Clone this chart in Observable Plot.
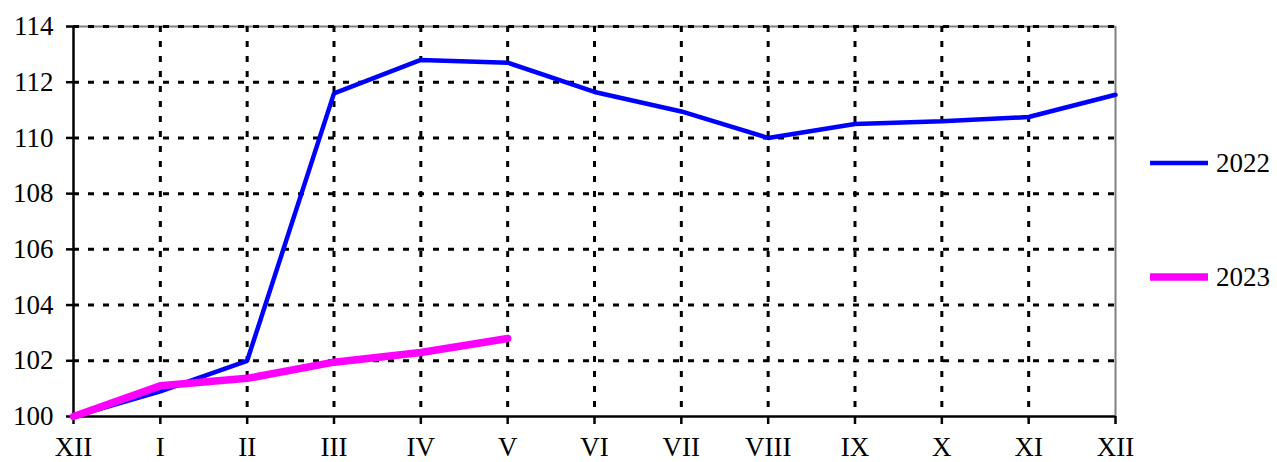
<!DOCTYPE html>
<html>
<head>
<meta charset="utf-8">
<script src="https://cdn.jsdelivr.net/npm/d3@7"></script>
<script src="https://cdn.jsdelivr.net/npm/@observablehq/plot@0.6"></script>
<style>
  html, body { margin: 0; padding: 0; background: #fff; }
  #chart { position: relative; width: 1277px; height: 462px; }
  #chart svg text { font-family: 'Liberation Serif', 'Times New Roman', serif !important; font-size: 27px !important; fill: #000; }
</style>
</head>
<body>
<div id="chart"></div>
<script>
const months = ["XII","I","II","III","IV","V","VI","VII","VIII","IX","X","XI","XII"];
const series2022 = [100, 100.9, 102.0, 111.6, 112.8, 112.7, 111.65, 110.95, 110.0, 110.5, 110.6, 110.75, 111.55];
const series2023 = [100, 101.1, 101.37, 101.95, 102.3, 102.8];
const yTicks = [100, 102, 104, 106, 108, 110, 112, 114];
const seriesNames = ["2022", "2023"];
const seriesColors = ["#0000ff", "#ff00ff"];
const seriesWidths = [4.5, 7.5];

const d2022 = series2022.map((v, i) => ({i, v}));
const d2023 = series2023.map((v, i) => ({i, v}));
const idx = d3.range(months.length);

const plot = Plot.plot({
  width: 1277,
  height: 462,
  marginLeft: 73,
  marginRight: 162,
  marginTop: 26,
  marginBottom: 46,
  style: { fontFamily: "'Liberation Serif', 'Times New Roman', serif", fontSize: "27px", color: "#000", background: "#fff" },
  x: { type: "linear", domain: [0, 12] },
  y: { domain: [100, 114] },
  marks: [
    Plot.ruleY([114], { stroke: "#808080", strokeWidth: 2 }),
    Plot.ruleX([12], { stroke: "#808080", strokeWidth: 2 }),
    Plot.ruleX(idx.slice(1, 12), { stroke: "#000", strokeWidth: 3, strokeDasharray: "6,9" }),
    Plot.ruleY(yTicks.slice(1), { stroke: "#000", strokeWidth: 3, strokeDasharray: "6,9" }),
    Plot.ruleX([0], { stroke: "#000", strokeWidth: 2.5 }),
    Plot.ruleY([100], { stroke: "#000", strokeWidth: 2.5 }),
    Plot.axisX({ ticks: idx, tickFormat: i => months[i], tickSize: 8, tickPadding: 12, strokeWidth: 2.5, label: null, fontSize: 27 }),
    Plot.axisY({ ticks: yTicks, tickFormat: d => String(d), tickSize: 7, tickPadding: 13, strokeWidth: 2.5, label: null, fontSize: 27 }),
    Plot.line(d2022, { x: "i", y: "v", stroke: seriesColors[0], strokeWidth: seriesWidths[0], strokeLinejoin: "miter" }),
    Plot.line(d2023, { x: "i", y: "v", stroke: seriesColors[1], strokeWidth: seriesWidths[1], strokeLinejoin: "miter" })
  ]
});

document.getElementById("chart").appendChild(plot);

// Legend drawn into the SVG on the right side
const svg = d3.select(plot);
const legendY = [163, 277];
seriesNames.forEach((name, k) => {
  const g = svg.append("g");
  g.append("line")
    .attr("x1", 1150).attr("x2", 1208)
    .attr("y1", legendY[k]).attr("y2", legendY[k])
    .attr("stroke", seriesColors[k]).attr("stroke-width", seriesWidths[k]);
  g.append("text")
    .attr("x", 1216).attr("y", legendY[k])
    .attr("dy", "0.35em")
    .attr("text-anchor", "start")
    .text(name);
});
</script>
</body>
</html>
